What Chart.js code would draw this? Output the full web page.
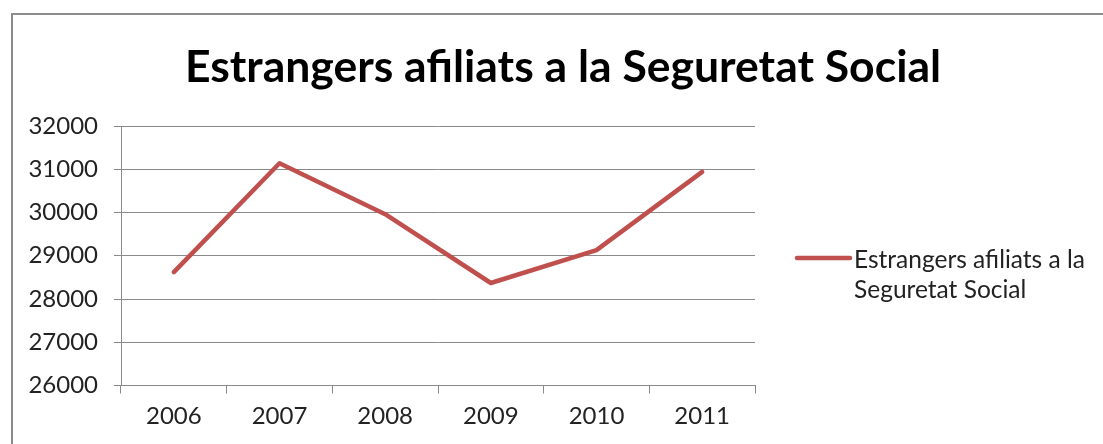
<!DOCTYPE html>
<html>
<head>
<meta charset="utf-8">
<script src="https://cdn.jsdelivr.net/npm/chart.js"></script>
<style>
  body { margin: 0; background: #fff; }
  #wrap { width: 1103px; height: 444px; }
</style>
</head>
<body>
<div id="wrap"><canvas id="chart" width="1103" height="444"></canvas></div>
<script>
const years = ['2006', '2007', '2008', '2009', '2010', '2011'];
const afiliats = [28620, 31140, 29960, 28370, 29130, 30940];
const seriesLabel = ['Estrangers afiliats a la', 'Seguretat Social'];
const chartTitle = 'Estrangers afiliats a la Seguretat Social';
const yMin = 26000, yMax = 32000, yStep = 1000;

const FONT = 'Lato, "Open Sans", sans-serif';
const red = '#c0504d';
const gridGray = '#8a8a8a';

// white background, outer frame, title and legend drawn by hand
const decor = {
  id: 'decor',
  beforeDraw(chart) {
    const c = chart.ctx;
    c.save();
    c.fillStyle = '#fff';
    c.fillRect(0, 0, chart.width, chart.height);
    c.strokeStyle = '#8c8c8c';
    c.lineWidth = 2;
    c.strokeRect(12, 14, 1200, 600);
    c.restore();
  },
  afterDraw(chart) {
    const c = chart.ctx;
    c.save();
    c.fillStyle = '#000';
    c.font = 'bold 44.5px ' + FONT;
    c.textAlign = 'center';
    c.textBaseline = 'alphabetic';
    c.fillText(chartTitle, 563, 82);

    const ds = chart.data.datasets[0];
    c.strokeStyle = ds.borderColor;
    c.lineWidth = 4.5;
    c.lineCap = 'round';
    c.beginPath();
    c.moveTo(797, 258);
    c.lineTo(850, 258);
    c.stroke();

    c.fillStyle = '#222';
    c.font = '24.5px ' + FONT;
    c.textAlign = 'left';
    ds.label.forEach((line, i) => c.fillText(line, 854, 268 + i * 30));
    c.restore();
  }
};

new Chart(document.getElementById('chart'), {
  type: 'line',
  data: {
    labels: years,
    datasets: [{
      label: seriesLabel,
      data: afiliats,
      borderColor: red,
      borderWidth: 4.5,
      tension: 0,
      pointRadius: 0,
      borderJoinStyle: 'round',
      borderCapStyle: 'round'
    }]
  },
  options: {
    responsive: false,
    animation: false,
    devicePixelRatio: 1,
    layout: { padding: { top: 126, right: 348, left: 0, bottom: 0 } },
    plugins: {
      legend: { display: false },
      title: { display: false },
      tooltip: { enabled: false }
    },
    scales: {
      x: {
        offset: true,
        grid: { offset: true, drawOnChartArea: false, tickLength: 8, color: gridGray },
        border: { color: gridGray },
        ticks: { color: '#222', font: { family: FONT, size: 24 }, padding: 8 },
        afterFit(s) { s.height = 444 - 385.5; }
      },
      y: {
        min: yMin,
        max: yMax,
        ticks: {
          stepSize: yStep,
          color: '#222',
          font: { family: FONT, size: 24 },
          padding: 16,
          callback: v => String(v)
        },
        grid: { color: gridGray, tickLength: 7 },
        border: { color: gridGray },
        afterFit(s) { s.width = 121; }
      }
    }
  },
  plugins: [decor]
});
</script>
</body>
</html>
